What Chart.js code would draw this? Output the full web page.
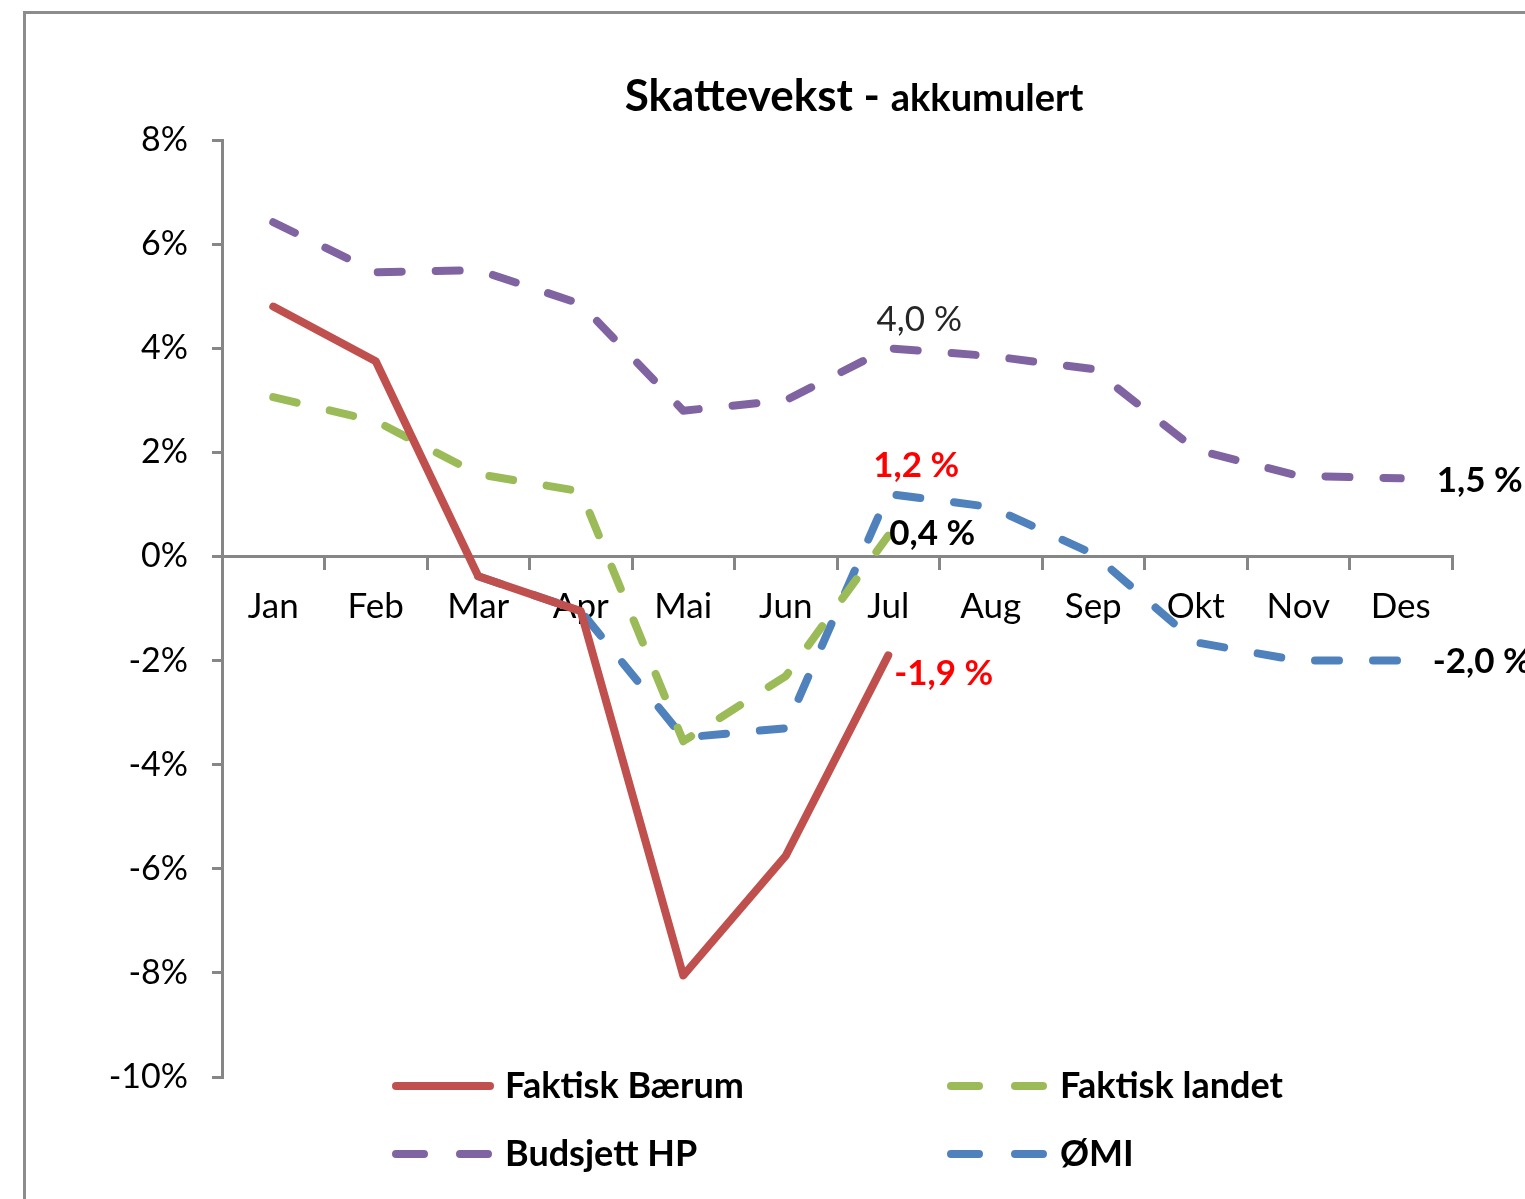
<!DOCTYPE html>
<html lang="no">
<head>
  <meta charset="UTF-8">
  <title>Skattevekst - akkumulert</title>
  <script src="https://cdn.jsdelivr.net/npm/chart.js"></script>
  <style>
    body { margin: 0; background: #fff; overflow: hidden; }
    .wrap { position: relative; width: 1525px; height: 1199px; overflow: hidden; }
    .frame {
      position: absolute; left: 23px; top: 11px;
      width: 1700px; height: 1400px;
      border-left: 3px solid #8c8c8c; border-top: 3px solid #8c8c8c;
    }
    canvas { position: absolute; left: 0; top: 0; }
  </style>
</head>
<body>
  <div class="wrap">
    <div class="frame"></div>
    <canvas id="chart" width="1525" height="1199"></canvas>
  </div>

  <script>
    // data (percent)
    const months = ['Jan', 'Feb', 'Mar', 'Apr', 'Mai', 'Jun', 'Jul', 'Aug', 'Sep', 'Okt', 'Nov', 'Des'];
    const faktiskBaerum = [4.8, 3.75, -0.38, -1.05, -8.05, -5.75, -1.9, null, null, null, null, null];
    const faktiskLandet = [3.06, 2.6, 1.58, 1.25, -3.55, -2.3, 0.4, null, null, null, null, null];
    const budsjettHP = [6.42, 5.46, 5.5, 4.85, 2.8, 3.0, 4.0, 3.85, 3.6, 2.05, 1.55, 1.5];
    const omi = [null, null, -0.38, -1.05, -3.48, -3.3, 1.2, 0.95, 0.05, -1.65, -2.0, -2.0];
    const seriesNames = ['Faktisk Bærum', 'Faktisk landet', 'Budsjett HP', 'ØMI'];
    const yTicks = [-10, -8, -6, -4, -2, 0, 2, 4, 6, 8];
    const titleMain = 'Skattevekst - ';
    const titleSub = 'akkumulert';

    // labels at the end points: [series, month index, text]
    const pointLabels = [
      [2, 6, '4,0 %'],
      [3, 6, '1,2 %'],
      [1, 6, '0,4 %'],
      [0, 6, '-1,9 %'],
      [2, 11, '1,5 %'],
      [3, 11, '-2,0 %']
    ];
    // how each of those labels is drawn
    const labelStyle = [
      { color: '#262626', bold: false, align: 'center', dx: 31, dy: -29 },
      { color: '#ff0000', bold: true, align: 'center', dx: 28, dy: -28 },
      { color: '#000000', bold: true, align: 'left', dx: 1, dy: -2 },
      { color: '#ff0000', bold: true, align: 'left', dx: 6, dy: 18 },
      { color: '#000000', bold: true, align: 'left', dx: 36, dy: 2 },
      { color: '#000000', bold: true, align: 'left', dx: 32, dy: 1 }
    ];

    const FONT = 'Lato, "Open Sans", sans-serif';
    const axisGray = '#868686';

    const titlePlugin = {
      id: 'excelTitle',
      afterDraw(chart) {
        const ctx = chart.ctx;
        ctx.save();
        const big = 'bold 44px ' + FONT, small = 'bold 38px ' + FONT;
        ctx.font = big;
        const w1 = ctx.measureText(titleMain).width;
        ctx.font = small;
        const w2 = ctx.measureText(titleSub).width;
        const x = 854 - (w1 + w2) / 2;
        ctx.fillStyle = '#000';
        ctx.textBaseline = 'alphabetic';
        ctx.font = big;
        ctx.fillText(titleMain, x, 111);
        ctx.font = small;
        ctx.fillText(titleSub, x + w1, 111);
        ctx.restore();
      }
    };

    const labelPlugin = {
      id: 'pointLabels',
      afterDatasetsDraw(chart) {
        const ctx = chart.ctx;
        ctx.save();
        ctx.textBaseline = 'middle';
        pointLabels.forEach(([ds, idx, text], i) => {
          const st = labelStyle[i];
          const pt = chart.getDatasetMeta(ds).data[idx];
          ctx.font = (st.bold ? 'bold ' : '') + '35px ' + FONT;
          ctx.fillStyle = st.color;
          ctx.textAlign = st.align;
          ctx.fillText(text, pt.x + st.dx, pt.y + st.dy);
        });
        ctx.restore();
      }
    };

    const legendPlugin = {
      id: 'twoColLegend',
      afterDraw(chart) {
        const ctx = chart.ctx;
        const colX = [393, 948];
        const rowY = [1086, 1154];
        ctx.save();
        chart.data.datasets.forEach((ds, i) => {
          const x = colX[i % 2], y = rowY[Math.floor(i / 2)];
          ctx.strokeStyle = ds.borderColor;
          ctx.lineWidth = ds.borderWidth;
          ctx.lineCap = 'round';
          ctx.setLineDash(ds.borderDash.length ? [28, 36] : []);
          ctx.beginPath();
          ctx.moveTo(x + 3, y);
          ctx.lineTo(x + 97, y);
          ctx.stroke();
          ctx.setLineDash([]);
          ctx.fillStyle = '#000';
          ctx.font = 'bold 36px ' + FONT;
          ctx.textBaseline = 'middle';
          ctx.textAlign = 'left';
          ctx.fillText(ds.label, x + 112, y);
        });
        ctx.restore();
      }
    };

    function line(label, data, color, dashed) {
      return {
        label: label,
        data: data,
        borderColor: color,
        backgroundColor: color,
        borderWidth: 8,
        borderDash: dashed ? [24, 34] : [],
        borderCapStyle: 'round',
        borderJoinStyle: 'round',
        pointRadius: 0,
        tension: 0,
        spanGaps: false,
        fill: false
      };
    }

    new Chart(document.getElementById('chart'), {
      type: 'line',
      data: {
        labels: months,
        datasets: [
          line(seriesNames[0], faktiskBaerum, '#c0504d', false),
          line(seriesNames[1], faktiskLandet, '#9bbb59', true),
          line(seriesNames[2], budsjettHP, '#8064a2', true),
          line(seriesNames[3], omi, '#4f81bd', true)
        ]
      },
      options: {
        responsive: false,
        animation: false,
        devicePixelRatio: 1,
        layout: { padding: { top: 140, right: 73, bottom: 122, left: 0 } },
        plugins: {
          legend: { display: false },
          title: { display: false },
          tooltip: { enabled: false }
        },
        scales: {
          x: {
            position: { y: 0 },
            offset: true,
            grid: {
              offset: true,
              drawOnChartArea: false,
              drawTicks: true,
              tickLength: 12,
              color: axisGray,
              lineWidth: 3
            },
            border: { display: true, color: axisGray, width: 3 },
            ticks: {
              color: '#000',
              font: { family: FONT, size: 35 },
              padding: 17,
              maxRotation: 0,
              autoSkip: false
            }
          },
          y: {
            min: -10,
            max: 8,
            afterBuildTicks: (s) => { s.ticks = yTicks.map(v => ({ value: v })); },
            afterFit: (s) => { s.width = 222; },
            grid: {
              drawOnChartArea: false,
              drawTicks: true,
              tickLength: 10,
              color: axisGray,
              lineWidth: 3
            },
            border: { display: true, color: axisGray, width: 3 },
            ticks: {
              color: '#000',
              font: { family: FONT, size: 34 },
              padding: 24,
              callback: (v) => v + '%'
            }
          }
        }
      },
      plugins: [labelPlugin, titlePlugin, legendPlugin]
    });
  </script>
</body>
</html>
